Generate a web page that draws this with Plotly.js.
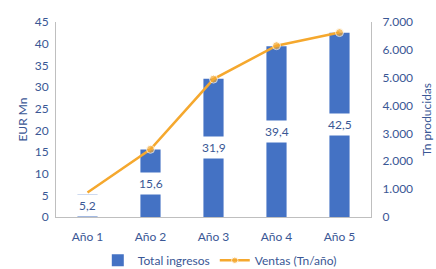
<!DOCTYPE html>
<html>
<head>
<meta charset="utf-8">
<script src="https://cdn.plot.ly/plotly-3.0.1.min.js"></script>
<style>html,body{margin:0;padding:0;background:#fff;overflow:hidden;}#chart{width:436px;height:300px;}</style>
</head>
<body>
<div id="chart"></div>
<script>
const categories = ['Año 1', 'Año 2', 'Año 3', 'Año 4', 'Año 5'];
const ingresos = [5.2, 15.6, 31.9, 39.4, 42.5];
const ventas = [880, 2430, 4950, 6150, 6620];
const ingresosLabels = ['5,2', '15,6', '31,9', '39,4', '42,5'];
const leftTicks = [0, 5, 10, 15, 20, 25, 30, 35, 40, 45];
const rightTicks = [0, 1000, 2000, 3000, 4000, 5000, 6000, 7000];
const rightTickLabels = ['0', '1.000', '2.000', '3.000', '4.000', '5.000', '6.000', '7.000'];

const txt = '#3A5795';
const fontFam = 'Lato, "Noto Sans", sans-serif';

const traces = [
  {
    type: 'bar', x: categories, y: ingresos, name: 'Total ingresos',
    marker: {color: '#4472C4'}, yaxis: 'y', hoverinfo: 'none'
  },
  {
    type: 'scatter', mode: 'lines+markers', x: categories, y: ventas, name: 'Ventas (Tn/año)',
    line: {color: '#F5A82E', width: 2.5}, marker: {color: '#F5A82E', size: [0, 8, 8, 8, 8]},
    yaxis: 'y2', hoverinfo: 'none'
  }
];

const annotations = categories.map((c, i) => ({
  x: c, y: ingresos[i] / 2, xref: 'x', yref: 'y', text: ingresosLabels[i],
  showarrow: false, bgcolor: '#ffffff', borderpad: 3,
  font: {family: fontFam, size: 12, color: txt}
}));

const layout = {
  width: 436, height: 300,
  margin: {l: 56, r: 65, t: 22, b: 83},
  paper_bgcolor: '#fff', plot_bgcolor: '#fff',
  font: {family: fontFam, size: 12, color: txt},
  bargap: 0.68,
  showlegend: true,
  legend: {orientation: 'h', x: 0.52, xanchor: 'center', y: -0.222, yanchor: 'middle',
           font: {family: fontFam, size: 12, color: txt}, traceorder: 'normal'},
  xaxis: {
    showline: true, linecolor: '#BFBFBF', linewidth: 1, ticks: '', showgrid: false,
    tickfont: {family: fontFam, size: 12, color: txt}, zeroline: false, ticklabelstandoff: 9
  },
  yaxis: {
    range: [0, 45], tickvals: leftTicks, showline: true, linecolor: '#BFBFBF', linewidth: 1,
    showgrid: false, zeroline: false, ticks: '',
    title: {text: 'EUR Mn', font: {family: fontFam, size: 12, color: txt}, standoff: 4},
    tickfont: {family: fontFam, size: 12, color: txt}, ticklabelstandoff: 4
  },
  yaxis2: {
    range: [0, 7000], tickvals: rightTicks, ticktext: rightTickLabels, overlaying: 'y', side: 'right',
    showline: true, linecolor: '#BFBFBF', linewidth: 1, showgrid: false, zeroline: false, ticks: '',
    title: {text: 'Tn producidas', font: {family: fontFam, size: 12, color: txt}, standoff: 10},
    tickfont: {family: fontFam, size: 12, color: txt}, ticklabelstandoff: 8
  },
  annotations: annotations
};

Plotly.newPlot('chart', traces, layout, {displayModeBar: false, staticPlot: true});
</script>
</body>
</html>
